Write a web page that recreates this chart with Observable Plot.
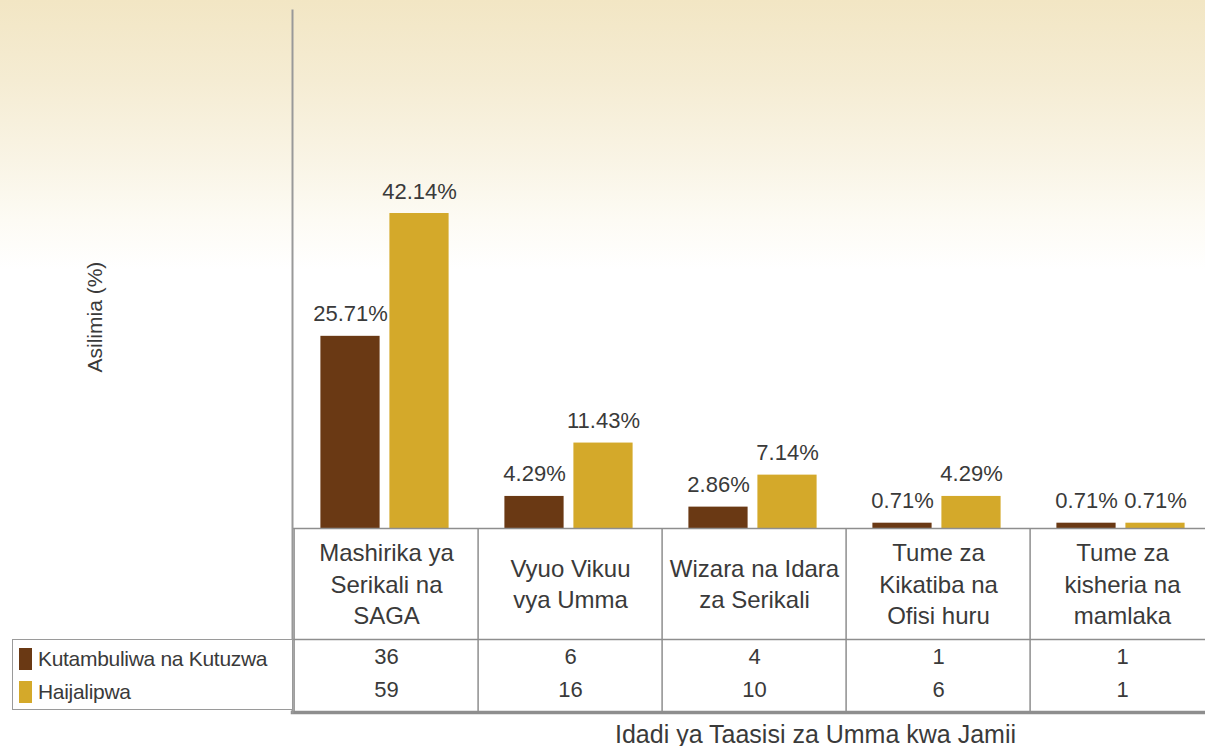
<!DOCTYPE html>
<html>
<head>
<meta charset="utf-8">
<script src="https://cdn.jsdelivr.net/npm/d3@7"></script>
<script src="https://cdn.jsdelivr.net/npm/@observablehq/plot@0.6"></script>
<style>
html, body { margin: 0; padding: 0; }
body {
  width: 1205px; height: 746px; overflow: hidden; position: relative;
  background: linear-gradient(to bottom, #F2E6C4 0px, #F5ECD3 80px, #F9F4E5 160px, #FDFBF4 220px, #FFFFFF 270px);
  font-family: "Liberation Sans", Arial, sans-serif;
}
#chart { position: absolute; left: 0; top: 0; }
#legend {
  position: absolute; left: 12px; top: 639px; width: 281px; height: 71px;
  box-sizing: border-box; border: 1.5px solid #9a9a9a; background: #fff;
}
.item { position: absolute; left: 6px; height: 24px; display: flex; align-items: center; }
.sw { width: 13px; height: 22px; margin-right: 6px; }
.lab { font-size: 21px; color: #3a3a3a; letter-spacing: -0.3px; }
</style>
</head>
<body>
<div id="chart"></div>
<div id="legend"></div>
<script>
// ---- data ----
const categories = [
  "Mashirika ya\nSerikali na\nSAGA",
  "Vyuo Vikuu\nvya Umma",
  "Wizara na Idara\nza Serikali",
  "Tume za\nKikatiba na\nOfisi huru",
  "Tume za\nkisheria na\nmamlaka"
];
const seriesNames = ["Kutambuliwa na Kutuzwa", "Haijalipwa"];
const pctRecognized = [25.71, 4.29, 2.86, 0.71, 0.71];
const pctUnpaid = [42.14, 11.43, 7.14, 4.29, 0.71];
const countRecognized = [36, 6, 4, 1, 1];
const countUnpaid = [59, 16, 10, 6, 1];
const seriesColors = ["#6A3914", "#D4A92A"];
const yLabel = "Asilimia (%)";
const xLabel = "Idadi ya Taasisi za Umma kwa Jamii";

// ---- table for the library ----
const rows = categories.map((c, i) => ({
  cat: c, rec: pctRecognized[i], unp: pctUnpaid[i],
  nRec: countRecognized[i], nUnp: countUnpaid[i]
}));

const W = 1205, H = 746;
const left = 292, right = 1216;
const bw = (right - left) / categories.length;
const textColor = "#3a3a3a";
const lineColor = "#8e8e8e";
const fs = 22;

const chart = Plot.plot({
  width: W, height: H,
  marginLeft: left, marginRight: W - right, marginTop: 10, marginBottom: 34,
  style: { background: "transparent", fontFamily: "Liberation Sans, Arial, sans-serif", overflow: "visible" },
  x: { type: "band", domain: categories, range: [left, right], padding: 0, axis: null },
  y: { domain: [0, 69.3], range: [528, 10], axis: null },
  marks: [
    Plot.barY(rows, { x: "cat", y: "rec", fill: seriesColors[0], insetLeft: bw / 2 - 66, insetRight: bw / 2 + 6 }),
    Plot.barY(rows, { x: "cat", y: "unp", fill: seriesColors[1], insetLeft: bw / 2 + 3, insetRight: bw / 2 - 63 }),
    Plot.text(rows, { x: "cat", y: "rec", text: d => d.rec.toFixed(2) + "%", dx: -36, dy: -15, lineAnchor: "bottom", fontSize: fs, fill: textColor }),
    Plot.text(rows, { x: "cat", y: "unp", text: d => d.unp.toFixed(2) + "%", dx: 33, dy: -15, lineAnchor: "bottom", fontSize: fs, fill: textColor }),
    // table lines
    Plot.ruleY([0], { stroke: lineColor, strokeWidth: 1.5 }),
    Plot.ruleY([0], { stroke: lineColor, strokeWidth: 1.5, dy: 111 }),
    Plot.ruleX(rows, { x: "cat", dx: -bw / 2, insetTop: 518, stroke: lineColor, strokeWidth: 1.5 }),
    Plot.frame({ anchor: "bottom", stroke: lineColor, strokeWidth: 3.5 }),
    Plot.frame({ anchor: "left", stroke: "#999", strokeWidth: 2 }),
    // table text
    Plot.text(rows, { x: "cat", y: d => 0, text: "cat", dy: 54, lineAnchor: "middle", lineHeight: 1.32, fontSize: 24, fill: textColor }),
    Plot.text(rows, { x: "cat", frameAnchor: "bottom", text: d => String(d.nRec), dy: -49, fontSize: fs, fill: textColor }),
    Plot.text(rows, { x: "cat", frameAnchor: "bottom", text: d => String(d.nUnp), dy: -16, fontSize: fs, fill: textColor }),
    // axis titles
    Plot.text([yLabel], { frameAnchor: "left", dx: -197, dy: 11, rotate: -90, fontSize: 21, fill: textColor }),
    Plot.text([xLabel], { frameAnchor: "bottom", dx: 61, dy: 13, lineAnchor: "top", fontSize: 25, fill: textColor })
  ]
});
document.getElementById("chart").appendChild(chart);

// legend (table row headers)
const legend = document.getElementById("legend");
seriesNames.forEach((name, i) => {
  const it = document.createElement("div");
  it.className = "item";
  it.style.top = (i === 0 ? 7 : 40) + "px";
  const sw = document.createElement("div");
  sw.className = "sw";
  sw.style.background = seriesColors[i];
  const lab = document.createElement("span");
  lab.className = "lab";
  lab.textContent = name;
  it.appendChild(sw); it.appendChild(lab);
  legend.appendChild(it);
});
</script>
</body>
</html>
